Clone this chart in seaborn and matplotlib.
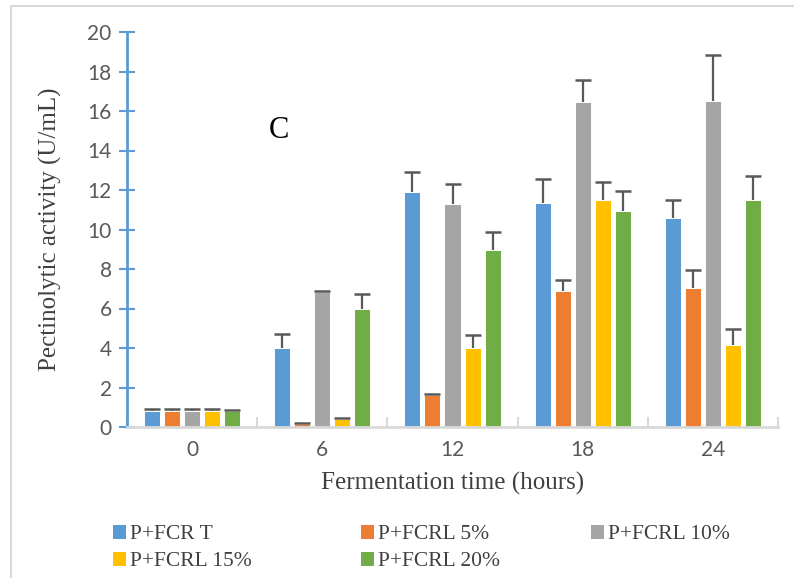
import matplotlib
matplotlib.use("Agg")
import matplotlib.pyplot as plt
import seaborn as sns
import pandas as pd
import numpy as np
from matplotlib.patches import Patch
from matplotlib.lines import Line2D

times = ["0", "6", "12", "18", "24"]
treatments = ["P+FCR T", "P+FCRL 5%", "P+FCRL 10%", "P+FCRL 15%", "P+FCRL 20%"]
colors = ["#5B9BD5", "#ED7D31", "#A5A5A5", "#FFC000", "#70AD47"]

v_T   = [0.80, 4.00, 11.90, 11.33, 10.57]
v_5   = [0.80, 0.15, 1.62, 6.90, 7.02]
v_10  = [0.82, 6.85, 11.29, 16.44, 16.49]
v_15  = [0.80, 0.40, 4.00, 11.51, 4.15]
v_20  = [0.80, 6.00, 8.95, 10.94, 11.48]

e_T   = [0.10, 0.70, 1.00, 1.21, 0.92]
e_5   = [0.10, 0.05, 0.06, 0.53, 0.93]
e_10  = [0.08, 0.05, 1.01, 1.13, 2.33]
e_15  = [0.10, 0.06, 0.64, 0.91, 0.83]
e_20  = [0.08, 0.72, 0.92, 1.03, 1.23]

values = [v_T, v_5, v_10, v_15, v_20]
errors = [e_T, e_5, e_10, e_15, e_20]

rows = []
for t, vals in zip(treatments, values):
    for tm, v in zip(times, vals):
        rows.append({"time": tm, "treatment": t, "value": v})
df = pd.DataFrame(rows)

sns.set_style("white")
plt.rcParams["font.family"] = ["Lato", "DejaVu Sans"]

fig = plt.figure(figsize=(7.94, 5.78), dpi=100)
ax = fig.add_axes([127/794, 1-427/578, (778-127)/794, (427-32)/578])

sns.barplot(data=df, x="time", y="value", hue="treatment", order=times,
            hue_order=treatments, palette=colors, saturation=1, width=0.77, gap=0.2,
            edgecolor="white", linewidth=0.7, legend=False, ax=ax, errorbar=None)

for cont, err in zip(ax.containers, errors):
    xs = np.array([p.get_x() + p.get_width()/2 for p in cont.patches])
    ys = np.array([p.get_height() for p in cont.patches])
    tops = ys + np.array(err)
    ax.vlines(xs, ys, tops, colors="#595959", linewidth=1.6, zorder=3)
    ax.plot(xs, tops, linestyle="none", marker="_", markersize=12,
            markeredgewidth=1.8, color="#595959", zorder=3)

ax.set_ylim(0, 20)
ax.set_xlim(-0.5, 4.5)
ax.set_yticks(np.arange(0, 21, 2))
ax.set_xticks(range(len(times)))
ax.set_xticklabels(times)

for s in ["top", "right"]:
    ax.spines[s].set_visible(False)
ax.spines["left"].set_color("#5B9BD5")
ax.spines["left"].set_linewidth(2)
ax.spines["bottom"].set_color("#D9D9D9")
ax.spines["bottom"].set_linewidth(2)

ax.tick_params(axis="y", left=True, direction="inout", length=12, width=1.5, color="#5B9BD5",
               labelsize=15, labelcolor="#595959", pad=5)
ax.tick_params(axis="x", which="major", bottom=False, length=0, labelsize=15,
               labelcolor="#595959", pad=9)
ax.set_xticks(np.arange(-0.5, 4.6, 1.0), minor=True)
ax.tick_params(axis="x", which="minor", bottom=True, direction="in", length=7, width=1.5,
               color="#D9D9D9")

ax.set_ylabel("Pectinolytic activity (U/mL)", fontsize=18, color="#404040",
              family=["Liberation Serif"], labelpad=18)
ax.set_xlabel("Fermentation time (hours)", fontsize=18, color="#404040",
              family=["Liberation Serif"], labelpad=9)

ax.text(0.67, 15.0, "C", fontsize=22, family=["Liberation Serif"], color="black",
        ha="center", va="center")

handles = [Patch(facecolor=c, edgecolor="none") for c in colors]
columns = [([0, 3], 113), ([1, 4], 361), ([2], 591)]
for idx, xpix in columns:
    leg = fig.legend([handles[i] for i in idx], [treatments[i] for i in idx],
                     ncol=1, loc="upper left", bbox_to_anchor=(xpix/794, 1-525/578),
                     frameon=False, handlelength=0.6, handleheight=0.6, handletextpad=0.2,
                     labelspacing=0.35, borderaxespad=0, borderpad=0,
                     prop={"family": "Liberation Serif", "size": 15.5})
    for t in leg.get_texts():
        t.set_color("#404040")

fig.add_artist(Line2D([11/794, 11/794], [0, 1-6/578], transform=fig.transFigure,
                      color="#D9D9D9", linewidth=1.5))
fig.add_artist(Line2D([11/794, 1], [1-6/578, 1-6/578], transform=fig.transFigure,
                      color="#D9D9D9", linewidth=1.5))

fig.savefig("out.png", dpi=100)
